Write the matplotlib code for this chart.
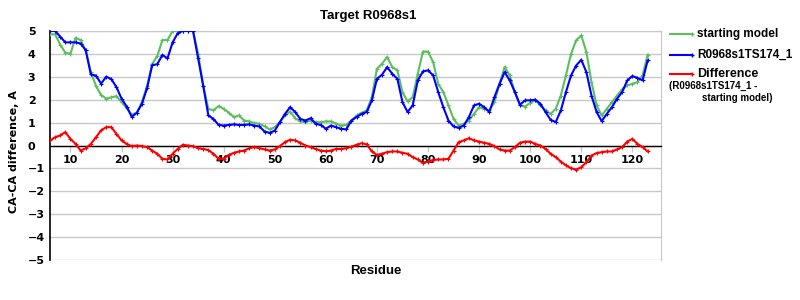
import numpy as np
import matplotlib
matplotlib.use("Agg")
import matplotlib.pyplot as plt
from matplotlib.lines import Line2D

# residues 6..123
residues = np.arange(6, 124)

starting_model = [
    4.85, 4.85, 4.40, 4.05, 4.00, 4.70, 4.60, 4.15, 3.20, 2.60,
    2.20, 2.05, 2.10, 2.15, 1.90, 1.63, 1.35, 1.43, 1.90, 2.60,
    3.55, 3.90, 4.60, 4.60, 5.00, 5.00, 5.00, 5.00, 5.00, 4.00,
    2.60, 1.60, 1.53, 1.72, 1.60, 1.43, 1.24, 1.31, 1.09, 1.05,
    0.98, 0.95, 0.84, 0.70, 0.80, 1.02, 1.31, 1.48, 1.19, 1.05,
    1.02, 1.09, 1.02, 1.02, 1.05, 1.05, 0.95, 0.87, 0.90, 1.09,
    1.31, 1.43, 1.53, 2.11, 3.35, 3.57, 3.86, 3.42, 3.28, 2.33,
    1.92, 2.11, 3.13, 4.10, 4.10, 3.64, 2.69, 2.33, 1.75, 1.16,
    0.87, 0.95, 1.09, 1.38, 1.67, 1.60, 1.53, 1.89, 2.69, 3.42,
    3.06, 2.33, 1.75, 1.70, 1.86, 1.97, 1.75, 1.53, 1.38, 1.60,
    2.18, 3.06, 4.00, 4.59, 4.80, 4.08, 2.77, 1.75, 1.31, 1.60,
    1.89, 2.18, 2.45, 2.62, 2.69, 2.77, 3.06, 3.96,
]

model_ts174 = [
    5.00, 5.00, 4.75, 4.50, 4.50, 4.50, 4.45, 4.15, 3.10, 3.05,
    2.70, 3.00, 2.90, 2.55, 2.05, 1.70, 1.25, 1.43, 1.82, 2.50,
    3.50, 3.55, 3.95, 3.80, 4.50, 4.90, 5.00, 5.00, 5.00, 3.80,
    2.60, 1.31, 1.16, 0.90, 0.87, 0.90, 0.92, 0.90, 0.90, 0.92,
    0.87, 0.83, 0.61, 0.55, 0.65, 1.02, 1.38, 1.67, 1.46, 1.16,
    1.09, 1.19, 0.95, 0.90, 0.73, 0.87, 0.80, 0.73, 0.70, 1.09,
    1.24, 1.38, 1.46, 1.97, 2.91, 3.09, 3.42, 3.13, 2.91, 1.89,
    1.46, 1.75, 2.84, 3.23, 3.28, 3.06, 2.33, 1.67, 1.09, 0.83,
    0.77, 0.87, 1.24, 1.75, 1.82, 1.67, 1.46, 2.11, 2.69, 3.20,
    2.84, 2.33, 1.78, 1.97, 1.97, 2.00, 1.82, 1.46, 1.12, 1.02,
    1.53, 2.33, 3.06, 3.49, 3.74, 3.20, 2.18, 1.46, 1.06, 1.38,
    1.67, 2.04, 2.33, 2.84, 3.03, 2.95, 2.84, 3.71,
]

difference = [
    0.22, 0.36, 0.44, 0.58, 0.29, 0.07, -0.22, -0.12, 0.07, 0.36,
    0.66, 0.80, 0.80, 0.51, 0.22, 0.07, -0.03, 0.00, -0.03, -0.07,
    -0.22, -0.36, -0.58, -0.61, -0.36, -0.15, 0.03, 0.00, -0.03, -0.12,
    -0.15, -0.20, -0.36, -0.58, -0.58, -0.41, -0.32, -0.26, -0.22, -0.12,
    -0.07, -0.12, -0.17, -0.22, -0.17, -0.03, 0.15, 0.25, 0.22, 0.12,
    0.00, -0.07, -0.15, -0.22, -0.25, -0.22, -0.15, -0.15, -0.12, -0.05,
    0.03, 0.10, 0.05, -0.26, -0.41, -0.36, -0.29, -0.26, -0.26, -0.32,
    -0.36, -0.51, -0.61, -0.76, -0.70, -0.63, -0.61, -0.61, -0.58, -0.22,
    0.15, 0.22, 0.32, 0.22, 0.17, 0.12, 0.07, -0.03, -0.17, -0.22,
    -0.22, -0.07, 0.12, 0.17, 0.17, 0.07, 0.00, -0.15, -0.36, -0.51,
    -0.70, -0.87, -0.99, -1.05, -0.95, -0.73, -0.44, -0.33, -0.29, -0.26,
    -0.26, -0.17, -0.07, 0.17, 0.29, 0.07, -0.07, -0.26,
]

x_ticks = [10, 20, 30, 40, 50, 60, 70, 80, 90, 100, 110, 120]
y_ticks = [-5, -4, -3, -2, -1, 0, 1, 2, 3, 4, 5]

green = "#5cbf5c"
blue = "#0000ff"
red = "#ff0000"
gridc = "#c8c8c8"

fig = plt.figure(figsize=(8, 3), dpi=100)
ax = fig.add_axes([0.0625, 0.133, 0.7637, 0.764])

mk = dict(marker="+", markersize=2.5, markeredgewidth=0.8)
ax.plot(residues, starting_model, color=green, lw=1.5, **mk, zorder=3)
ax.plot(residues, model_ts174, color=blue, lw=1.5, **mk, zorder=4)
ax.plot(residues, difference, color=red, lw=1.5, **mk, zorder=4)

ax.set_xlim(6, 125.6)
ax.set_ylim(-5, 5)
ax.set_yticks(y_ticks)
ax.set_xticks(x_ticks)
ax.yaxis.grid(True, color=gridc, lw=1)
ax.set_axisbelow(True)

ax.spines["bottom"].set_position(("data", 0))
ax.spines["bottom"].set_color("black")
ax.spines["bottom"].set_linewidth(1)
ax.spines["left"].set_color("black")
ax.spines["left"].set_linewidth(1.2)
ax.spines["right"].set_color(gridc)
ax.spines["top"].set_color(gridc)

# y labels sit left-aligned at about x=28 px
ax.tick_params(axis="y", length=0, pad=16)
ax.tick_params(axis="x", length=4.5, width=1, color=gridc, pad=2, direction="out")
for lab in ax.get_yticklabels():
    lab.set_horizontalalignment("left")
for lab in ax.get_yticklabels() + ax.get_xticklabels():
    lab.set_fontweight("bold")
    lab.set_fontsize(8)
    lab.set_family("DejaVu Sans")

fig.text(368 / 800, 1 - 15.5 / 300, "Target R0968s1", fontsize=9.5,
         fontweight="bold", ha="center", va="center", family="Liberation Sans")
fig.text(14.5 / 800, 1 - 152 / 300, "CA-CA difference, A", fontsize=8,
         fontweight="bold", rotation=90, ha="center", va="center")
fig.text(376 / 800, 1 - 271 / 300, "Residue", fontsize=9.5, fontweight="bold",
         ha="center", va="center", family="Liberation Sans")

# legend drawn by hand at the right
lx0, lx1, tx = 670 / 800, 692 / 800, 697 / 800
entries = [(green, "starting model", 34, 8.5), (blue, "R0968s1TS174_1", 55, 8.5),
           (red, "Difference", 74, 9)]
for col, txt, ypx, fs in entries:
    yy = 1 - ypx / 300
    fig.add_artist(Line2D([lx0, lx1], [yy, yy], transform=fig.transFigure,
                          color=col, lw=1.5, marker="+", markersize=2.5,
                          markevery=[1]))
    fig.text(tx, yy, txt, fontsize=fs, fontweight="bold", va="center",
             family="Liberation Sans")
fig.text(669 / 800, 1 - 86 / 300, "(R0968s1TS174_1 -", fontsize=7,
         fontweight="bold", va="center", family="Liberation Sans")
fig.text(702 / 800, 1 - 98 / 300, "starting model)", fontsize=7,
         fontweight="bold", va="center", family="Liberation Sans")

fig.savefig("out.png", dpi=100)
